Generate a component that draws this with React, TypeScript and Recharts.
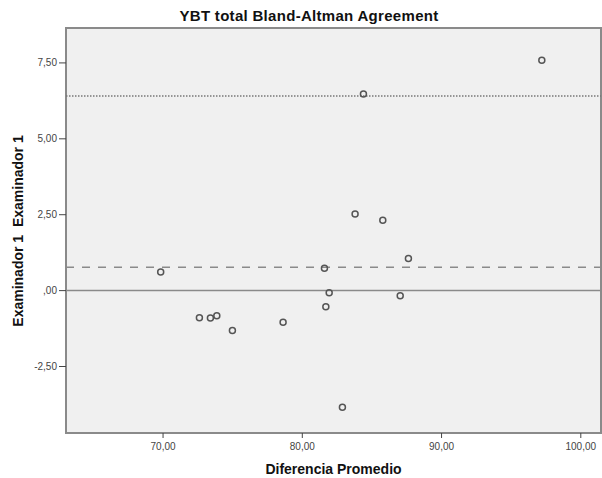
import { ScatterChart, Scatter, XAxis, YAxis, ReferenceLine, ReferenceArea, Label } from 'recharts'

const meanValues = [69.83, 72.61, 73.4, 73.86, 74.98, 78.62, 81.59, 81.93, 81.69, 82.88, 83.79, 85.78, 87.62, 87.03, 84.39, 97.2]
const diffValues = [0.61, -0.89, -0.9, -0.83, -1.31, -1.04, 0.74, -0.07, -0.53, -3.84, 2.52, 2.32, 1.06, -0.17, 6.48, 7.59]
const xTicks = [70, 80, 90, 100]
const yTicks = [-2.5, 0, 2.5, 5, 7.5]
const meanDiff = 0.77
const upperLimit = 6.41

const X_DOMAIN: [number, number] = [63.03, 101.45]
const Y_DOMAIN: [number, number] = [-4.69, 8.65]

const points = meanValues.map((x, i) => ({ x, y: diffValues[i] }))

const FONT = '"Liberation Sans", Arial, sans-serif'
const GRAY = '#8a8a8a'

// SPSS style numbers: comma decimals, no leading zero for 0
const fmt = (v: number) => {
  const s = v.toFixed(2).replace('.', ',')
  return s === '0,00' ? ',00' : s
}

const OpenDot = (props: any) => (
  <circle cx={props.cx} cy={props.cy} r={3} fill="none" stroke="#555" strokeWidth={1.5} />
)

export default function App() {
  return (
    <div style={{ position: 'absolute', left: 0, top: 0, width: 602, height: 478, background: '#fff', fontFamily: FONT }}>
      <div style={{ position: 'absolute', left: 8, width: 602, top: 8, textAlign: 'center', fontSize: 15, letterSpacing: 0.3, fontWeight: 'bold', lineHeight: '15px', color: '#111' }}>
        YBT total Bland-Altman Agreement
      </div>
      <ScatterChart width={602} height={478} margin={{ top: 28, right: 1, left: 0, bottom: 0 }}>
        <ReferenceArea x1={X_DOMAIN[0]} x2={X_DOMAIN[1]} y1={Y_DOMAIN[0]} y2={Y_DOMAIN[1]} fill="#f0f0f0" fillOpacity={1} stroke={GRAY} strokeWidth={2} />
        <XAxis
          type="number"
          dataKey="x"
          domain={X_DOMAIN}
          ticks={xTicks}
          allowDataOverflow
          height={45}
          axisLine={false}
          tickLine={{ stroke: '#444' }}
          tickSize={5}
          tickMargin={5}
          tickFormatter={fmt}
          tick={{ fontSize: 10, fill: '#444', fontFamily: FONT }}
        >
          <Label value="Diferencia Promedio" position="insideBottom" offset={4} style={{ fontSize: 14, fontWeight: 'bold', fill: '#111', fontFamily: FONT }} />
        </XAxis>
        <YAxis
          type="number"
          dataKey="y"
          domain={Y_DOMAIN}
          ticks={yTicks}
          allowDataOverflow
          width={66}
          axisLine={false}
          tickLine={{ stroke: '#444' }}
          tickSize={7}
          tickMargin={2}
          tickFormatter={fmt}
          tick={{ fontSize: 10, fill: '#444', fontFamily: FONT }}
        >
          <Label
            content={() => (
              <text x={231} y={23} transform="rotate(-90 0 0) translate(-462 0)" textAnchor="middle" xmlSpace="preserve" style={{ fontSize: 14, fontWeight: 'bold', fill: '#111', fontFamily: FONT, whiteSpace: 'pre' }}>
                {'Examinador 1  Examinador 1'}
              </text>
            )}
          />
        </YAxis>
        <ReferenceLine y={0} stroke={GRAY} strokeWidth={1.5} />
        <ReferenceLine y={meanDiff} stroke={GRAY} strokeWidth={1.5} strokeDasharray="8 8" />
        <ReferenceLine y={upperLimit} stroke="#777" strokeWidth={1.5} strokeDasharray="1.5 1.5" />
        <Scatter data={points} shape={OpenDot} isAnimationActive={false} />
      </ScatterChart>
    </div>
  )
}
